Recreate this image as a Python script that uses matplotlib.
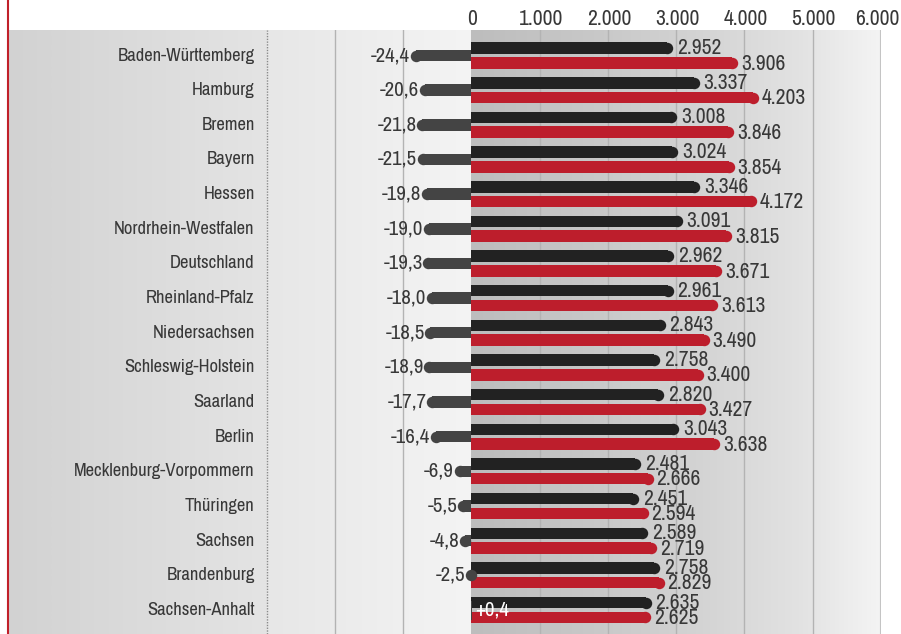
import matplotlib
matplotlib.use("Agg")
import matplotlib.pyplot as plt
import numpy as np
from matplotlib.colors import LinearSegmentedColormap
from matplotlib.lines import Line2D
from matplotlib.transforms import blended_transform_factory, offset_copy

plt.rcParams['font.family'] = ['Archivo Narrow', 'DejaVu Sans']

# ---- data ----
states = ["Baden-Württemberg", "Hamburg", "Bremen", "Bayern", "Hessen",
          "Nordrhein-Westfalen", "Deutschland", "Rheinland-Pfalz", "Niedersachsen",
          "Schleswig-Holstein", "Saarland", "Berlin", "Mecklenburg-Vorpommern",
          "Thüringen", "Sachsen", "Brandenburg", "Sachsen-Anhalt"]
values_black = [2952, 3337, 3008, 3024, 3346, 3091, 2962, 2961, 2843, 2758, 2820,
                3043, 2481, 2451, 2589, 2758, 2635]
values_red = [3906, 4203, 3846, 3854, 4172, 3815, 3671, 3613, 3490, 3400, 3427,
              3638, 2666, 2594, 2719, 2829, 2625]
pct_diff = [-24.4, -20.6, -21.8, -21.5, -19.8, -19.0, -19.3, -18.0, -18.5, -18.9,
            -17.7, -16.4, -6.9, -5.5, -4.8, -2.5, 0.4]
xticks = [0, 1000, 2000, 3000, 4000, 5000, 6000]
xtick_labels = ["0", "1.000", "2.000", "3.000", "4.000", "5.000", "6.000"]

# ---- style ----
W, H, DPI = 901, 634, 100
BLACK = "#222222"
RED = "#bd1e2c"
GREY_BAR = "#444444"
TXT = "#383838"
PCT_SCALE = 37.0  # euro-axis units per percent point

fig = plt.figure(figsize=(W / DPI, H / DPI), dpi=DPI)
ax_left_px, ax_right_px, ax_top_px = 8, 881, 30
ax = fig.add_axes([ax_left_px / W, 0, (ax_right_px - ax_left_px) / W, (H - ax_top_px) / H])
XMIN, XMAX = -6790, 6000
row_px = 34.66
ytop = -(55.5 - ax_top_px) / row_px
ybot = 16 + (H - 55.5 - 16 * row_px) / row_px
ax.set_xlim(XMIN, XMAX)
ax.set_ylim(ybot, ytop)
px_per_unit = (ax_right_px - ax_left_px) / (XMAX - XMIN)

# backgrounds
def grad(x0, x1, colors, stops=None):
    if stops is None:
        cmap = LinearSegmentedColormap.from_list("g", colors)
    else:
        cmap = LinearSegmentedColormap.from_list("g", list(zip(stops, colors)))
    g = np.linspace(0, 1, 256).reshape(1, -1)
    ax.imshow(g, extent=[x0, x1, ybot, ytop], aspect='auto', cmap=cmap,
              zorder=0, interpolation='bilinear')

grad(XMIN, -3000, ["#d2d2d2", "#e4e4e4"])
grad(-3000, 0, ["#e7e7e7", "#f4f4f4"])
grad(0, XMAX, ["#bdbdbd", "#c8c8c8", "#d3d3d3", "#e2e2e2", "#f4f4f4"],
     [0.0, 0.3, 0.55, 0.8, 1.0])

for gx in [-2000, -1000, 1000, 2000, 3000, 4000, 5000]:
    ax.axvline(gx, color="#b3b3b3", lw=1, zorder=1)
ax.axvline(6000, color="#c4c4c4", lw=1.5, zorder=1)
ax.axvline(-3000, color="#8a8a8a", lw=1, ls=(0, (1, 1)), zorder=1)

y = np.arange(len(states))
bar_h = 0.33
off = 0.212
h_px = bar_h * row_px
r_units = (h_px / 2) / px_per_unit
ms = h_px * 72 / DPI

def round_bar(yc, v, color, sign=1):
    if abs(v) > r_units:
        body = v - sign * r_units
        ax.barh(yc, body, height=bar_h, color=color, lw=0, zorder=3)
        ax.plot([body], [yc], 'o', ms=ms, mec='none', mfc=color, zorder=3)
    else:
        ax.barh(yc, v, height=bar_h, color=color, lw=0, zorder=3)

fs_num = 15.5
fs_pct = 15
fs_cat = 13.4
for i in range(len(states)):
    vb, vr, p = values_black[i], values_red[i], pct_diff[i]
    round_bar(y[i] - off, vb, BLACK)
    round_bar(y[i] + off, vr, RED)
    pv = p * PCT_SCALE
    if p < 0:
        round_bar(y[i], pv, GREY_BAR, sign=-1)
        lab = f"{p:.1f}".replace(".", ",")
        ax.text(pv, y[i], lab, ha='right', va='center',
                fontsize=fs_pct, color=TXT, zorder=5)
    else:
        ax.barh(y[i], pv, height=0.55, color=GREY_BAR, lw=0, zorder=4)
        lab = "+" + f"{p:.1f}".replace(".", ",")
        ax.text(4 / px_per_unit, y[i], lab, ha='left', va='center',
                fontsize=fs_pct, color="white", zorder=6)
    ax.text(vb + 4 / px_per_unit, y[i] - off, f"{vb:,}".replace(",", "."),
            ha='left', va='center', fontsize=fs_num, color=TXT, zorder=5)
    ax.text(vr + 3 / px_per_unit, y[i] + off + 0.02, f"{vr:,}".replace(",", "."),
            ha='left', va='center', fontsize=fs_num, color=TXT, zorder=5)
    ax.text(-3000 - 12 / px_per_unit, y[i], states[i], ha='right', va='center',
            fontsize=fs_cat, color=TXT, zorder=5)

ax.set_yticks([])
ax.set_xticks([])
tr = blended_transform_factory(ax.transData, ax.transAxes)
for t, lab in zip(xticks, xtick_labels):
    if t == xticks[-1]:
        ax.text(t, 1.0, lab, transform=offset_copy(tr, fig=fig, x=19, y=11, units='dots'),
                ha='right', va='center', fontsize=fs_num, color=TXT, clip_on=False)
    else:
        ax.text(t, 1.0, lab, transform=offset_copy(tr, fig=fig, x=1, y=11, units='dots'),
                ha='center', va='center', fontsize=fs_num, color=TXT, clip_on=False)
for s in ax.spines.values():
    s.set_visible(False)

fig.add_artist(Line2D([7.5 / W, 7.5 / W], [0, 1], color="#c0202a", lw=1.5,
                      transform=fig.transFigure))

fig.savefig("out.png", dpi=DPI)
